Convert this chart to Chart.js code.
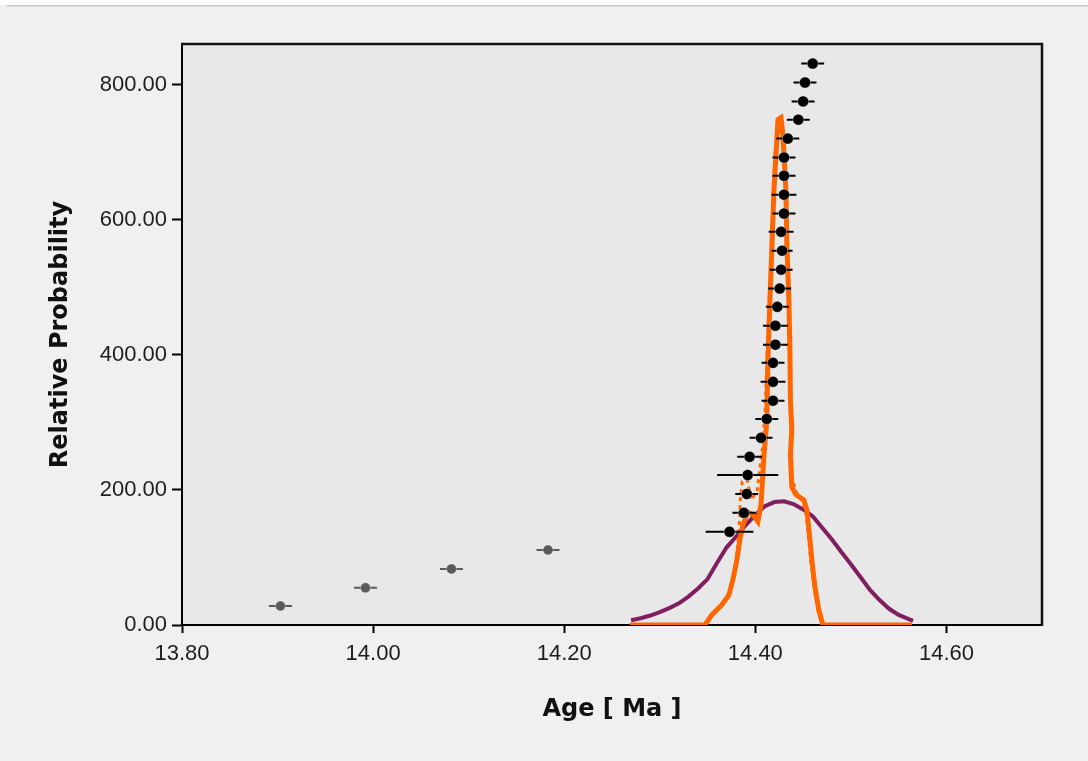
<!DOCTYPE html>
<html>
<head>
<meta charset="utf-8">
<script src="https://cdn.jsdelivr.net/npm/chart.js@4/dist/chart.umd.min.js"></script>
<style>
  html, body { margin: 0; padding: 0; background: #f0f0f0; }
  #wrap { position: relative; width: 1088px; height: 761px; }
</style>
</head>
<body>
<div id="wrap"><canvas id="c"></canvas></div>
<script>
// ---- Data ----
const xTicks = [13.80, 14.00, 14.20, 14.40, 14.60];
const yTicks = [0, 200, 400, 600, 800];

// Rejected / grey analyses (age, 1-sigma half width, rank position)
const greyAges = [13.903, 13.992, 14.082, 14.183];
const greyErr  = [0.012, 0.012, 0.012, 0.012];
const greyY    = [28, 55, 83, 111];

// Accepted / black analyses
const blackAges = [14.373, 14.388, 14.391, 14.392, 14.394, 14.406, 14.412, 14.4185, 14.4185, 14.4185,
                   14.421, 14.421, 14.423, 14.4255, 14.427, 14.428, 14.427, 14.430, 14.430, 14.430,
                   14.430, 14.434, 14.445, 14.450, 14.452, 14.460];
const blackErr  = [0.025, 0.012, 0.012, 0.032, 0.013, 0.012, 0.012, 0.012, 0.013, 0.012,
                   0.013, 0.013, 0.012, 0.012, 0.012, 0.011, 0.013, 0.012, 0.013, 0.012,
                   0.012, 0.012, 0.012, 0.012, 0.012, 0.012];
const blackY    = [138, 166, 194, 222, 249, 277, 305, 332, 360, 388,
                   415, 443, 471, 498, 526, 554, 582, 609, 637, 665,
                   692, 720, 748, 775, 803, 831];

// Cumulative probability curve (purple)
const purpleX = [14.270, 14.280, 14.290, 14.300, 14.310, 14.320, 14.330, 14.340, 14.350, 14.360,
                 14.370, 14.380, 14.390, 14.400, 14.410, 14.420, 14.430, 14.440, 14.450, 14.460,
                 14.470, 14.480, 14.490, 14.500, 14.510, 14.520, 14.530, 14.540, 14.550, 14.560, 14.565];
const purpleY = [7, 10, 14, 19, 25, 32, 42, 54, 68, 92,
                 115, 131, 148, 163, 176, 182, 183, 179, 171, 161,
                 144, 127, 108, 90, 71, 52, 37, 24, 15, 9, 6];

// Probability density (orange, solid)
const orangeX = [14.2687, 14.3472, 14.3545, 14.3650, 14.3723, 14.3765, 14.3807, 14.3838, 14.3869, 14.3924,
                 14.3975, 14.4027, 14.4059, 14.4091, 14.4121, 14.4132, 14.4153, 14.4174, 14.4195, 14.4216,
                 14.4237, 14.4268, 14.4288, 14.4320, 14.4330, 14.4351, 14.4362, 14.4367, 14.4382, 14.4367,
                 14.4382, 14.4424, 14.4508, 14.4540, 14.4561, 14.4592, 14.4624, 14.4665, 14.4707, 14.5638];
const orangeY = [0, 0, 15, 30, 44, 67, 96, 126, 148, 167,
                 163, 153, 178, 252, 304, 393, 481, 563, 644, 696,
                 748, 751, 726, 644, 563, 481, 407, 333, 289, 252,
                 204, 193, 185, 170, 141, 96, 56, 22, 0, 0];

// Probability density (orange, dashed second curve)
const orange2X = [14.2687, 14.3470, 14.3548, 14.3665, 14.3738, 14.3780, 14.3811, 14.3832, 14.3842, 14.3863,
                  14.3915, 14.3957, 14.4020, 14.4072, 14.4103, 14.4124, 14.4145, 14.4166, 14.4187, 14.4208,
                  14.4240, 14.4280, 14.4313, 14.4324, 14.4324, 14.4345, 14.4355, 14.4366, 14.4376, 14.4387,
                  14.4439, 14.4502, 14.4533, 14.4554, 14.4585, 14.4617, 14.4659, 14.4700, 14.5638];
const orange2Y = [0, 0, 16, 33, 52, 79, 111, 148, 185, 212,
                  215, 185, 200, 259, 319, 407, 481, 556, 644, 704,
                  741, 733, 681, 622, 563, 496, 407, 333, 274, 215,
                  193, 182, 163, 133, 89, 52, 19, 0, 0];

// ---- Build library datasets from the arrays ----
const pts = (xs, ys) => xs.map((x, i) => ({ x: x, y: ys[i] }));
function errSegments(ages, errs, ys) {
  const out = [];
  ages.forEach((a, i) => {
    out.push({ x: a - errs[i], y: ys[i] });
    out.push({ x: a + errs[i], y: ys[i] });
    out.push({ x: a, y: null });
  });
  return out;
}

const bgPlugin = {
  id: 'bg',
  beforeDraw(chart) {
    const { ctx, chartArea: a, width, height } = chart;
    ctx.save();
    ctx.fillStyle = '#f0f0f0';
    ctx.fillRect(0, 0, width, height);
    ctx.fillStyle = '#ffffff';
    ctx.fillRect(0, 0, width, 5);
    ctx.fillStyle = '#c4c4c4';
    ctx.fillRect(7, 5, width - 7, 1.5);
    ctx.fillStyle = '#e8e8e8';
    ctx.fillRect(a.left, a.top, a.right - a.left, a.bottom - a.top);
    ctx.restore();
  },
  afterDraw(chart) {
    const { ctx, chartArea: a } = chart;
    ctx.save();
    ctx.strokeStyle = '#111';
    ctx.lineWidth = 2.5;
    ctx.beginPath();
    ctx.moveTo(a.left - 1, a.top);
    ctx.lineTo(a.right, a.top);
    ctx.lineTo(a.right, a.bottom + 1);
    ctx.stroke();
    ctx.restore();
  }
};

const tickFont = { family: '"Liberation Sans", Arial, sans-serif', size: 22 };
const titleFont = { family: '"DejaVu Sans", Verdana, sans-serif', size: 24, weight: 'bold' };

new Chart(document.getElementById('c'), {
  type: 'line',
  data: {
    datasets: [
      { data: pts(blackAges, blackY), showLine: false, pointRadius: 5.5, pointBackgroundColor: '#000',
        pointBorderColor: 'rgba(255,255,255,0.35)', pointBorderWidth: 1 },
      { data: errSegments(blackAges, blackErr, blackY), borderColor: '#000', borderWidth: 2, pointRadius: 0, spanGaps: false },
      { data: pts(greyAges, greyY), showLine: false, pointRadius: 5, pointBackgroundColor: '#5a5a5a',
        pointBorderColor: 'rgba(255,255,255,0.35)', pointBorderWidth: 1 },
      { data: errSegments(greyAges, greyErr, greyY), borderColor: '#5a5a5a', borderWidth: 2, pointRadius: 0, spanGaps: false },
      { data: pts(orangeX, orangeY), borderColor: '#ff6600', borderWidth: 5, pointRadius: 0, tension: 0 },
      { data: pts(orange2X, orange2Y), borderColor: '#ff6600', borderWidth: 3, borderDash: [4, 4], pointRadius: 0, tension: 0 },
      { data: pts(purpleX, purpleY), borderColor: '#7f1f60', borderWidth: 4, pointRadius: 0, tension: 0 }
    ]
  },
  options: {
    responsive: true,
    maintainAspectRatio: false,
    animation: false,
    events: [],
    layout: { padding: { left: 0, right: 46, top: 44, bottom: 0 } },
    plugins: { legend: { display: false }, tooltip: { enabled: false } },
    scales: {
      x: {
        type: 'linear', min: 13.8, max: 14.7,
        afterBuildTicks: s => { s.ticks = xTicks.map(v => ({ value: v })); },
        afterFit: s => { s.height = 136; },
        grid: { display: true, drawOnChartArea: false, drawTicks: true, tickLength: 8, tickWidth: 2, tickColor: '#000' },
        border: { display: true, color: '#000', width: 2 },
        ticks: { font: tickFont, color: '#1e1e1e', padding: 8, maxRotation: 0, autoSkip: false,
                 callback: v => Number(v).toFixed(2) },
        title: { display: true, text: 'Age [ Ma ]', font: titleFont, color: '#111', padding: { top: 0, bottom: 37 } }
      },
      y: {
        type: 'linear', min: 0, max: 860,
        afterBuildTicks: s => { s.ticks = yTicks.map(v => ({ value: v })); },
        afterFit: s => { s.width = 182; },
        grid: { display: true, drawOnChartArea: false, drawTicks: true, tickLength: 10, tickWidth: 2, tickColor: '#000' },
        border: { display: true, color: '#000', width: 2 },
        ticks: { font: tickFont, color: '#1e1e1e', padding: 5, autoSkip: false,
                 callback: v => Number(v).toFixed(2) },
        title: { display: true, text: 'Relative Probability', font: titleFont, color: '#111', padding: { top: 46, bottom: 0 } }
      }
    }
  },
  plugins: [bgPlugin]
});
</script>
</body>
</html>
